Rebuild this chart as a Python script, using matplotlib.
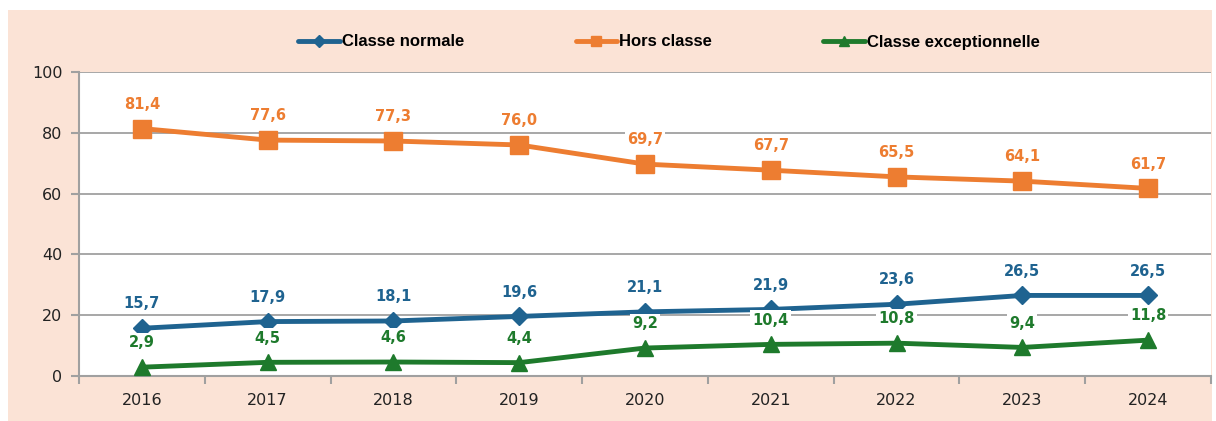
import numpy as np
import matplotlib.pyplot as plt
from matplotlib.patches import Rectangle

years = ['2016', '2017', '2018', '2019', '2020', '2021', '2022', '2023', '2024']
classe_normale = [15.7, 17.9, 18.1, 19.6, 21.1, 21.9, 23.6, 26.5, 26.5]
hors_classe = [81.4, 77.6, 77.3, 76.0, 69.7, 67.7, 65.5, 64.1, 61.7]
classe_exc = [2.9, 4.5, 4.6, 4.4, 9.2, 10.4, 10.8, 9.4, 11.8]

blue = '#1F6390'
orange = '#ED7D31'
green = '#1E7A2C'
peach = '#FBE3D6'
grid_c = '#A0A0A0'

fig = plt.figure(figsize=(12.16, 4.21), dpi=100, facecolor='white')
fig.patches.append(Rectangle((8 / 1216, 0.0), 1204 / 1216, 411 / 421,
                             transform=fig.transFigure, facecolor=peach,
                             edgecolor='none', zorder=-10))

ax = fig.add_axes([79 / 1216, 1 - 376 / 421, 1132 / 1216, 304 / 421])
ax.set_facecolor('white')
x = np.arange(len(years))

series = [
    ('Classe normale', classe_normale, blue, 'D', 9.5),
    ('Hors classe', hors_classe, orange, 's', 12.5),
    ('Classe exceptionnelle', classe_exc, green, '^', 12),
]
for name, vals, c, m, ms in series:
    ax.plot(x, vals, color=c, lw=3.5, marker=m, ms=ms, label=name,
            solid_capstyle='round', zorder=3)
    for xi, v in zip(x, vals):
        ax.annotate(f'{v:.1f}'.replace('.', ','), (xi, v), xytext=(0, 17.5),
                    textcoords='offset points', ha='center', va='center',
                    color=c, fontsize=10.5, fontweight='bold',
                    bbox=dict(boxstyle='square,pad=0.15', fc='white', ec='none'),
                    zorder=4)

ax.set_xlim(-0.5, len(years) - 0.5)
ax.set_ylim(0, 100)
ax.set_yticks([0, 20, 40, 60, 80, 100])
ax.set_xticks(x)
ax.set_xticklabels(years)
ax.set_xticks(np.arange(-0.5, len(years)), minor=True)
ax.tick_params(axis='x', which='major', length=0, pad=12, labelsize=11.5, colors='#222222')
ax.tick_params(axis='x', which='minor', length=6, color=grid_c, width=1.5, direction='out')
ax.tick_params(axis='y', length=6, color=grid_c, width=1.5, labelsize=11.5,
               labelcolor='#222222', pad=6)
ax.grid(axis='y', color=grid_c, lw=1.3, zorder=0)
ax.set_axisbelow(True)
for s in ['top', 'right']:
    ax.spines[s].set_visible(False)
for s in ['left', 'bottom']:
    ax.spines[s].set_color(grid_c)
    ax.spines[s].set_linewidth(1.5)

fig.legend(loc='center', bbox_to_anchor=(669 / 1216, 1 - 42 / 421), ncol=3,
           frameon=False, columnspacing=6.7, handlelength=2.5, handletextpad=0.1,
           markerscale=0.6,
           prop=dict(family='Liberation Sans', weight='bold', size=12))

fig.savefig('out.png', dpi=100, facecolor=fig.get_facecolor())
